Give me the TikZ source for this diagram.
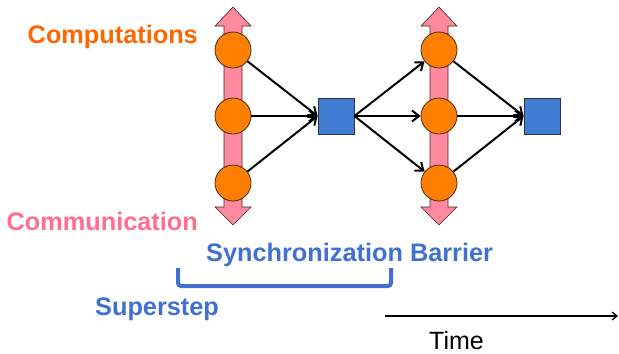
\documentclass[tikz,border=0pt]{standalone}
\usepackage{fontspec}
\setmainfont{Liberation Sans}
\usetikzlibrary{arrows.meta}
\definecolor{corange}{RGB}{255,128,0}
\definecolor{torange}{RGB}{255,102,0}
\definecolor{cpink}{RGB}{255,138,160}
\definecolor{tpink}{RGB}{255,110,140}
\definecolor{cblue}{RGB}{64,124,212}
\definecolor{tblue}{RGB}{64,112,208}
\definecolor{edgedark}{RGB}{70,40,30}
\begin{document}
\begin{tikzpicture}[x=1bp,y=-1bp,
  proc/.style={circle,draw=edgedark,line width=0.8bp,fill=corange,minimum size=36bp,inner sep=0},
  barrier/.style={rectangle,draw=black!80,line width=0.8bp,fill=cblue,minimum size=36bp,inner sep=0},
  msg/.style={line width=2bp,-{Straight Barb[length=7bp,width=11bp,line width=2bp]}},
  comm/.style={fill=cpink,draw=edgedark,line width=0.6bp},
  lab/.style={inner sep=0,font=\fontsize{25.3bp}{30bp}\selectfont\bfseries}
]
\useasboundingbox (0,0) rectangle (619,353);
% communication arrows
\foreach \cx in {233,439}{
  \draw[comm] (\cx,7) -- (\cx+18,26) -- (\cx+9,26) -- (\cx+9,207) -- (\cx+18,207) -- (\cx,225)
    -- (\cx-18,207) -- (\cx-9,207) -- (\cx-9,26) -- (\cx-18,26) -- cycle;
}
% nodes
\node[proc] (a1) at (233,50) {};
\node[proc] (a2) at (233,116) {};
\node[proc] (a3) at (233,183) {};
\node[barrier] (s1) at (336,116) {};
\node[proc] (b1) at (439,50) {};
\node[proc] (b2) at (439,116) {};
\node[proc] (b3) at (439,183) {};
\node[barrier] (s2) at (542,116) {};
% connectors
\foreach \n in {a1,a2,a3} \draw[msg] (\n) -- (s1.west);
\foreach \n in {b1,b2,b3} \draw[msg] (s1.east) -- (\n);
\foreach \n in {b1,b2,b3} \draw[msg] (\n) -- (s2.west);
% labels
\node[lab,text=torange,anchor=base east] (comp) at (198,43) {Computations};
\node[lab,text=tpink,anchor=base east] (commu) at (198,230) {Communication};
\node[lab,text=tblue,anchor=base west] (sync) at (206,261) {Synchronization Barrier};
\node[lab,text=tblue,anchor=base west] (sup) at (95,315) {Superstep};
% bracket
\draw[tblue,line width=4bp,rounded corners=3bp] (178,268) -- (178,286) -- (391,286) -- (391,268);
% time axis
\coordinate (t0) at (385,316);
\coordinate (t1) at (618,316);
\draw[line width=1.3bp,-{Straight Barb[length=5bp,width=8bp,line width=1.3bp]}] (t0) -- (t1);
\node[inner sep=0,anchor=base west,font=\fontsize{25bp}{30bp}\selectfont] (time) at (429,349.5) {Time};
\end{tikzpicture}
\end{document}
